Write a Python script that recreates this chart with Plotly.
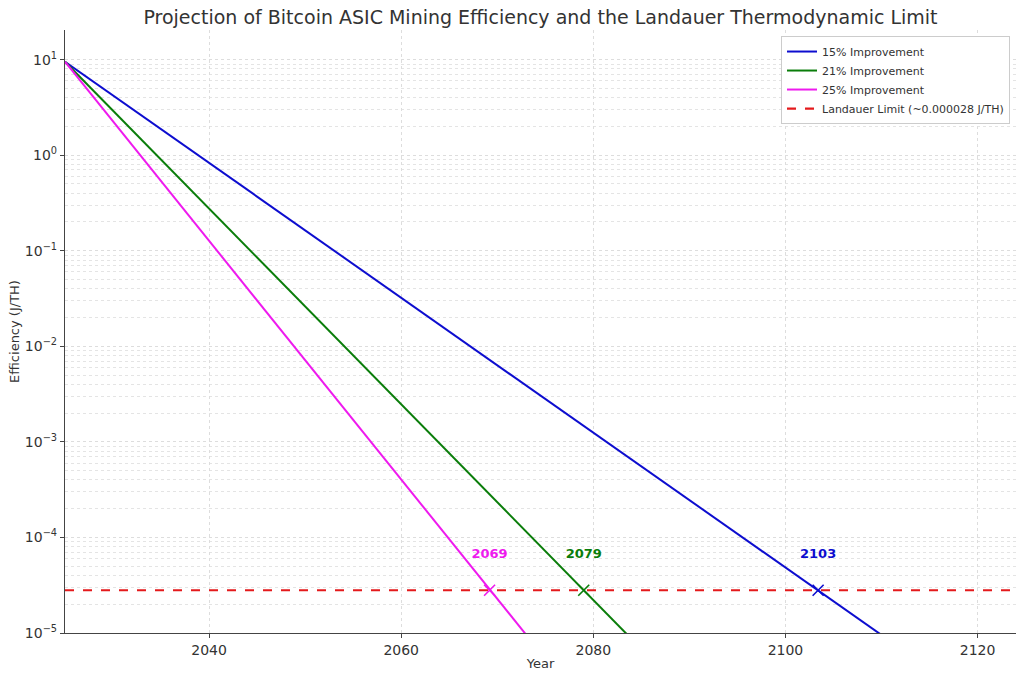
import plotly.graph_objects as go

years = [2025, 2035, 2045, 2055, 2065, 2075, 2085, 2095, 2105, 2115, 2124]
eff_15 = [9.5, 1.87, 0.368, 0.0725, 0.0143, 0.00281, 5.54e-4, 1.09e-4, 2.15e-5, 4.23e-6, 9.8e-7]
eff_21 = [9.5, 0.900, 0.0852, 0.00807, 7.65e-4, 7.24e-5, 6.86e-6, 6.5e-7, 6.16e-8, 5.8e-9, 6.9e-10]
eff_25 = [9.5, 0.535, 0.0301, 0.0017, 9.55e-5, 5.38e-6, 3.0e-7, 1.7e-8, 9.6e-10, 5.4e-11, 4.1e-12]

landauer = 2.8e-5
cross_years = [2103.4, 2079.0, 2069.2]
cross_labels = ["2103", "2079", "2069"]
label_y = 6.6e-5

y_ticks = [1e-5, 1e-4, 1e-3, 1e-2, 1e-1, 1, 10]
y_ticktext = ["10<sup>−5</sup>", "10<sup>−4</sup>", "10<sup>−3</sup>", "10<sup>−2</sup>",
              "10<sup>−1</sup>", "10<sup>0</sup>", "10<sup>1</sup>"]

names = ["15% Improvement", "21% Improvement", "25% Improvement"]
colors = ["#0d0dcf", "#0a7d0a", "#ee1aee"]
series = [eff_15, eff_21, eff_25]

font = "DejaVu Sans, Verdana, sans-serif"
fig = go.Figure()

for name, vals, c in zip(names, series, colors):
    fig.add_trace(go.Scatter(x=years, y=vals, mode="lines", name=name,
                             line=dict(color=c, width=2)))

fig.add_trace(go.Scatter(x=[2025, 2124], y=[landauer, landauer], mode="lines",
                         name="Landauer Limit (~0.000028 J/TH)",
                         line=dict(color="#e41a1c", width=2.2, dash="dash")))

for cy, lab, c in zip(cross_years, cross_labels, colors):
    fig.add_trace(go.Scatter(x=[cy], y=[landauer], mode="markers", showlegend=False,
                             marker=dict(symbol="x-thin", size=11, line=dict(color=c, width=1.6))))
    fig.add_trace(go.Scatter(x=[cy], y=[label_y], mode="text", text=[lab], showlegend=False,
                             textfont=dict(color=c, size=13, family="DejaVu Sans", weight="bold")))

fig.update_layout(
    width=1024, height=680,
    margin=dict(l=65, r=8, t=30, b=47),
    plot_bgcolor="white", paper_bgcolor="white",
    font=dict(family=font, size=13, color="#333333"),
    title=dict(text="Projection of Bitcoin ASIC Mining Efficiency and the Landauer Thermodynamic Limit",
               x=0.5, xref="paper", xanchor="center", y=0.975, yanchor="middle",
               font=dict(size=19, color="#333333")),
    legend=dict(x=0.9937, y=0.99, xanchor="right", yanchor="top",
                bgcolor="white", bordercolor="#cccccc", borderwidth=1,
                font=dict(size=11), tracegroupgap=0),
)

fig.update_xaxes(range=[2025, 2124], dtick=20, tick0=2040, automargin=False,
                 showline=True, linecolor="#444444", linewidth=1.2,
                 ticks="outside", ticklen=4, tickcolor="#444444", tickfont=dict(size=14),
                 showgrid=True, gridcolor="#dddddd", griddash="dot", gridwidth=1,
                 zeroline=False, title=dict(text="Year", standoff=1, font=dict(size=13)))

fig.update_yaxes(type="log", range=[-5, 1.31], tickvals=y_ticks, ticktext=y_ticktext,
                 automargin=False,
                 showline=True, linecolor="#444444", linewidth=1.2,
                 ticks="outside", ticklen=4, tickcolor="#444444", tickfont=dict(size=14),
                 showgrid=True, gridcolor="#dddddd", griddash="dot", gridwidth=1,
                 minor=dict(dtick="D1", showgrid=True, gridcolor="#e4e4e4", griddash="dot", ticks=""),
                 zeroline=False, title=dict(text="Efficiency (J/TH)", standoff=2, font=dict(size=13)))

fig.write_html("out.html", config={"displayModeBar": False},
               post_script="document.body.style.margin='0';")
